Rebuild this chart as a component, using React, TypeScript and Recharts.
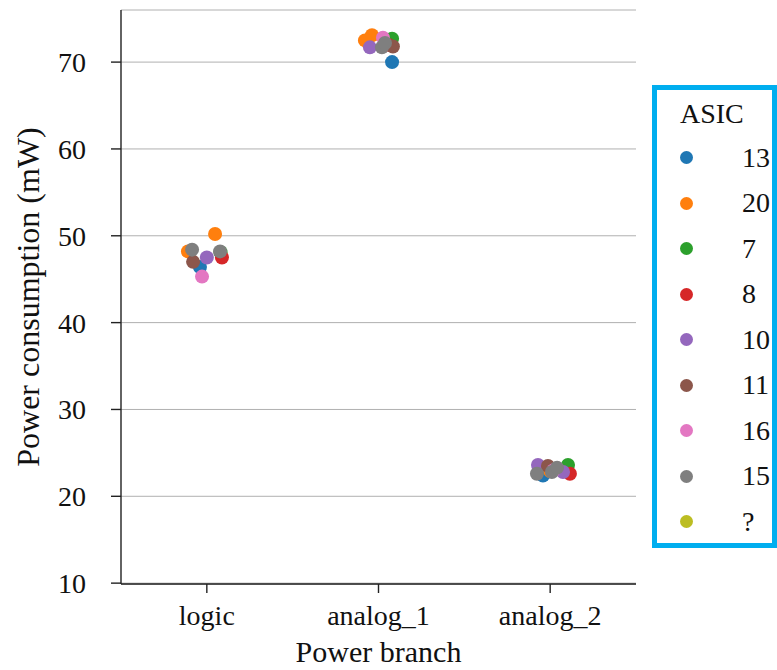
import { ScatterChart, Scatter, XAxis, YAxis, CartesianGrid } from 'recharts';

const branches = ['logic', 'analog_1', 'analog_2'];
const yTicks = [10, 20, 30, 40, 50, 60, 70];

const asicIds = ['13', '20', '7', '8', '10', '11', '16', '15', '?'];
const asicColors = ['#1f77b4', '#ff7f0e', '#2ca02c', '#d62728', '#9467bd', '#8c564b', '#e377c2', '#7f7f7f', '#bcbd22'];

// [branch index, power (mW), strip jitter]
const asic13 = [[0, 46.4, -0.04], [1, 70.0, 0.079], [2, 22.4, -0.042]];
const asic20 = [[0, 50.2, 0.048], [0, 48.2, -0.11], [1, 73.1, -0.038], [1, 72.5, -0.079], [2, 22.9, 0.0]];
const asic7 = [[0, 48.1, 0.08], [1, 72.7, 0.079], [2, 23.6, 0.104]];
const asic8 = [[0, 47.5, 0.088], [1, 72.0, 0.055], [2, 22.6, 0.115]];
const asic10 = [[0, 47.5, 0.0], [1, 71.7, -0.05], [2, 23.6, -0.071], [2, 22.8, 0.075]];
const asic11 = [[0, 47.0, -0.08], [1, 71.8, 0.084], [2, 23.5, -0.013]];
const asic16 = [[0, 45.3, -0.028], [1, 72.8, 0.026], [2, 23.0, 0.02]];
const asic15 = [[0, 48.4, -0.086], [0, 48.2, 0.077], [1, 71.7, 0.02], [1, 72.2, 0.038], [2, 22.6, -0.077], [2, 22.8, 0.01], [2, 23.3, 0.04]];
const asicUnknown: number[][] = [];

const asicPoints = [asic13, asic20, asic7, asic8, asic10, asic11, asic16, asic15, asicUnknown];

const FONT = '"Liberation Serif", "Times New Roman", serif';

const series = asicIds.map((id, i) => ({
    id,
    color: asicColors[i],
    data: asicPoints[i].map(([b, v, j]) => ({ x: b + j, y: v, branch: branches[b] })),
}));

export default function App() {
    return (
        <div style={{ position: 'absolute', left: 0, top: 0, width: 777, height: 670, background: '#fff', fontFamily: FONT }}>
            <ScatterChart width={777} height={670} margin={{ top: 10, right: 141, bottom: 0, left: 0 }}>
                <CartesianGrid vertical={false} stroke="#b0b0b0" strokeWidth={1} />
                <XAxis
                    type="number"
                    dataKey="x"
                    domain={[-0.5, 2.5]}
                    ticks={[0, 1, 2]}
                    tickFormatter={(i) => branches[i]}
                    height={86}
                    tickSize={9}
                    tickMargin={12}
                    stroke="#222"
                    strokeWidth={1.4}
                    tick={{ fill: '#111', fontSize: 28, fontFamily: FONT }}
                    allowDataOverflow
                    label={{
                        content: (props: any) => {
                            const vb = props.viewBox;
                            return (
                                <text x={vb.x + vb.width / 2} y={vb.y + 78} textAnchor="middle" fontSize={30} fontFamily={FONT} fill="#111">
                                    Power branch
                                </text>
                            );
                        },
                    }}
                />
                <YAxis
                    type="number"
                    dataKey="y"
                    domain={[9.9, 76]}
                    ticks={yTicks}
                    width={121}
                    tickSize={10}
                    tickMargin={25}
                    stroke="#222"
                    strokeWidth={1.4}
                    tick={{ fill: '#111', fontSize: 28, fontFamily: FONT }}
                    allowDataOverflow
                    label={{
                        content: (props: any) => {
                            const vb = props.viewBox;
                            const cx = vb.x + 28;
                            const cy = vb.y + vb.height / 2;
                            return (
                                <text x={cx} y={cy} transform={`rotate(-90, ${cx}, ${cy})`} textAnchor="middle" dominantBaseline="central" fontSize={32} fontFamily={FONT} fill="#111">
                                    Power consumption (mW)
                                </text>
                            );
                        },
                    }}
                />
                {series.map((s) => (
                    <Scatter
                        key={s.id}
                        name={s.id}
                        data={s.data}
                        fill={s.color}
                        isAnimationActive={false}
                        shape={(p: any) => <circle cx={p.cx} cy={p.cy} r={7} fill={s.color} />}
                    />
                ))}
            </ScatterChart>
            <div
                style={{
                    position: 'absolute',
                    left: 652,
                    top: 85,
                    width: 125,
                    height: 463,
                    boxSizing: 'border-box',
                    border: '5px solid #00aeef',
                    background: '#fff',
                    fontSize: 28,
                    lineHeight: '28px',
                    color: '#111',
                }}
            >
                <div style={{ position: 'absolute', left: 23, top: 10 }}>ASIC</div>
                {series.map((s, i) => (
                    <div
                        key={s.id}
                        style={{ position: 'absolute', left: 0, top: 45 + i * 45.5, height: 45.5, display: 'flex', alignItems: 'center' }}
                    >
                        <span style={{ display: 'inline-block', width: 13, height: 13, borderRadius: '50%', background: s.color, marginLeft: 22.5 }} />
                        <span style={{ marginLeft: 49.5 }}>{s.id}</span>
                    </div>
                ))}
            </div>
        </div>
    );
}
